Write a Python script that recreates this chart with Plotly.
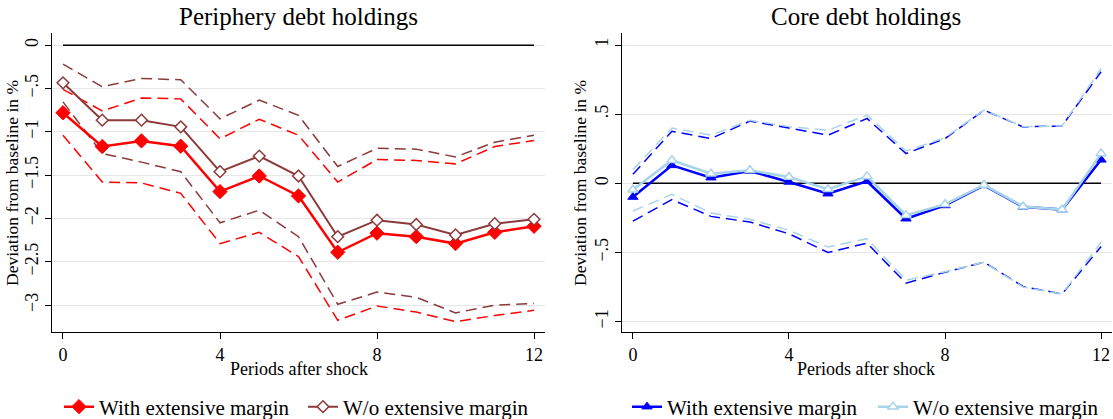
import plotly.graph_objects as go

periods = list(range(13))

# Periphery debt holdings (left panel)
peri_with = [-0.78, -1.17, -1.105, -1.166, -1.69, -1.51, -1.74, -2.39, -2.17, -2.21, -2.29, -2.16, -2.09]
peri_with_hi = [-0.51, -0.76, -0.61, -0.62, -1.08, -0.855, -1.04, -1.58, -1.32, -1.33, -1.37, -1.17, -1.10]
peri_with_lo = [-1.04, -1.58, -1.59, -1.71, -2.29, -2.16, -2.44, -3.175, -3.01, -3.08, -3.19, -3.12, -3.06]
peri_wo = [-0.435, -0.866, -0.866, -0.943, -1.46, -1.28, -1.51, -2.21, -2.02, -2.07, -2.19, -2.06, -2.01]
peri_wo_hi = [-0.22, -0.48, -0.385, -0.40, -0.85, -0.635, -0.81, -1.40, -1.19, -1.20, -1.29, -1.12, -1.04]
peri_wo_lo = [-0.655, -1.25, -1.35, -1.46, -2.05, -1.905, -2.21, -2.99, -2.85, -2.91, -3.09, -3.00, -2.98]

# Core debt holdings (right panel)
core_with = [-0.099, 0.13, 0.041, 0.089, 0.01, -0.075, 0.015, -0.256, -0.16, -0.015, -0.17, -0.19, 0.17]
core_with_hi = [0.065, 0.377, 0.324, 0.45, 0.40, 0.348, 0.469, 0.215, 0.324, 0.529, 0.408, 0.415, 0.807]
core_with_lo = [-0.273, -0.118, -0.239, -0.28, -0.365, -0.50, -0.432, -0.722, -0.643, -0.57, -0.746, -0.80, -0.457]
core_wo = [-0.046, 0.167, 0.07, 0.094, 0.046, -0.043, 0.05, -0.23, -0.152, -0.012, -0.167, -0.19, 0.215]
core_wo_hi = [0.099, 0.40, 0.348, 0.456, 0.41, 0.384, 0.493, 0.234, 0.33, 0.53, 0.41, 0.415, 0.83]
core_wo_lo = [-0.20, -0.08, -0.215, -0.26, -0.34, -0.46, -0.40, -0.70, -0.64, -0.57, -0.75, -0.80, -0.425]

zero_line = [0] * 13

x_ticks = [0, 4, 8, 12]
peri_yticks = [0, -0.5, -1, -1.5, -2, -2.5, -3]
peri_yticklabels = ["0", "\u2212.5", "\u22121", "\u22121.5", "\u22122", "\u22122.5", "\u22123"]
core_yticks = [1, 0.5, 0, -0.5, -1]
core_yticklabels = ["1", ".5", "0", "\u2212.5", "\u22121"]

FONT = "Liberation Serif"
RED = "#ff0000"
BROWN = "#8c3a3a"
BLUE = "#0000ff"
LBLUE = "#a6d4e8"
DASH = "11px,6px"

fig = go.Figure()

def add(x, y, color, xa, ya, dash=None, width=2, marker=None, name=None, legend=None, show=False):
    kw = dict(x=x, y=y, xaxis=xa, yaxis=ya, showlegend=show, hoverinfo="skip")
    if marker is not None:
        kw["mode"] = "lines+markers"
        kw["marker"] = marker
    else:
        kw["mode"] = "lines"
    kw["line"] = dict(color=color, width=width, dash=dash) if dash else dict(color=color, width=width)
    if name:
        kw["name"] = name
    if legend:
        kw["legend"] = legend
    fig.add_trace(go.Scatter(**kw))

# Left panel
add(periods, zero_line, "black", "x", "y", width=1.5)
add(periods, peri_with_hi, RED, "x", "y", dash=DASH, width=1.5)
add(periods, peri_with_lo, RED, "x", "y", dash=DASH, width=1.5)
add(periods, peri_wo_hi, BROWN, "x", "y", dash=DASH, width=1.5)
add(periods, peri_wo_lo, BROWN, "x", "y", dash=DASH, width=1.5)
add(periods, peri_with, RED, "x", "y", width=2.5,
    marker=dict(symbol="diamond", size=11, color=RED, line=dict(color=RED, width=1)),
    name="With extensive margin", legend="legend", show=True)
add(periods, peri_wo, BROWN, "x", "y", width=2,
    marker=dict(symbol="diamond", size=9, color="white", line=dict(color=BROWN, width=1.5)),
    name="W/o extensive margin", legend="legend2", show=True)

# Right panel
add(periods, zero_line, "black", "x2", "y2", width=1.5)
add(periods, core_with_hi, BLUE, "x2", "y2", dash=DASH, width=1.5)
add(periods, core_with_lo, BLUE, "x2", "y2", dash=DASH, width=1.5)
add(periods, core_wo_hi, LBLUE, "x2", "y2", dash=DASH, width=1.5)
add(periods, core_wo_lo, LBLUE, "x2", "y2", dash=DASH, width=1.5)
add(periods, core_with, BLUE, "x2", "y2", width=2.5,
    marker=dict(symbol="triangle-up", size=9, color=BLUE, line=dict(color=BLUE, width=1)),
    name="With extensive margin", legend="legend3", show=True)
add(periods, core_wo, LBLUE, "x2", "y2", width=2.5,
    marker=dict(symbol="triangle-up", size=9, color="white", line=dict(color=LBLUE, width=1.5)),
    name="W/o extensive margin", legend="legend4", show=True)

W, H = 1113, 419
ydom = [1 - 332 / H, 1 - 33 / H]

TICKSIZE = 18
xcommon = dict(range=[-0.28, 12.28], tickvals=x_ticks, ticktext=[str(v) for v in x_ticks],
               showline=True, linecolor="black", linewidth=1.2, ticks="outside", ticklen=6,
               tickcolor="black", showgrid=False, zeroline=False,
               tickfont=dict(family=FONT, size=TICKSIZE, color="black"))
ycommon = dict(showline=True, linecolor="black", linewidth=1.2, ticks="outside", ticklen=6,
               tickcolor="black", showgrid=True, gridcolor="#e6e6e6", gridwidth=1.2,
               zeroline=False, tickangle=-90,
               tickfont=dict(family=FONT, size=TICKSIZE, color="black"))

def leg(xpx):
    return dict(orientation="h", x=xpx / W, y=1 - 407 / H, xanchor="left", yanchor="middle",
                xref="container", yref="container",
                font=dict(family=FONT, size=21, color="black"), bgcolor="rgba(0,0,0,0)")

fig.update_layout(
    width=W, height=H,
    margin=dict(l=0, r=0, t=0, b=0, autoexpand=False),
    paper_bgcolor="white", plot_bgcolor="white",
    font=dict(family=FONT, color="black"),
    xaxis=dict(domain=[52 / W, 545 / W], anchor="y", **xcommon),
    yaxis=dict(domain=ydom, anchor="x", range=[-3.31, 0.14],
               tickvals=peri_yticks, ticktext=peri_yticklabels, **ycommon),
    xaxis2=dict(domain=[622 / W, 1112 / W], anchor="y2", **xcommon),
    yaxis2=dict(domain=ydom, anchor="x2", range=[-1.075, 1.087],
                tickvals=core_yticks, ticktext=core_yticklabels, **ycommon),
    legend=leg(59), legend2=leg(303), legend3=leg(627), legend4=leg(873),
    annotations=[
        dict(text="Periphery debt holdings", x=298.5 / W, y=1 - 17 / H, xref="paper", yref="paper",
             showarrow=False, font=dict(family=FONT, size=25, color="black"), xanchor="center", yanchor="middle"),
        dict(text="Core debt holdings", x=866 / W, y=1 - 17 / H, xref="paper", yref="paper",
             showarrow=False, font=dict(family=FONT, size=25, color="black"), xanchor="center", yanchor="middle"),
        dict(text="Deviation from baseline in %", x=12 / W, y=1 - 183 / H, xref="paper", yref="paper",
             showarrow=False, textangle=-90, font=dict(family=FONT, size=17.5, color="black"),
             xanchor="center", yanchor="middle"),
        dict(text="Deviation from baseline in %", x=580 / W, y=1 - 183 / H, xref="paper", yref="paper",
             showarrow=False, textangle=-90, font=dict(family=FONT, size=17.5, color="black"),
             xanchor="center", yanchor="middle"),
        dict(text="Periods after shock", x=298.5 / W, y=1 - 369 / H, xref="paper", yref="paper",
             showarrow=False, font=dict(family=FONT, size=18, color="black"), xanchor="center", yanchor="middle"),
        dict(text="Periods after shock", x=866 / W, y=1 - 369 / H, xref="paper", yref="paper",
             showarrow=False, font=dict(family=FONT, size=18, color="black"), xanchor="center", yanchor="middle"),
    ],
)

fig.write_html("out.html", config={"displayModeBar": False},
               post_script="document.body.style.margin='0';document.body.style.overflow='hidden';")
